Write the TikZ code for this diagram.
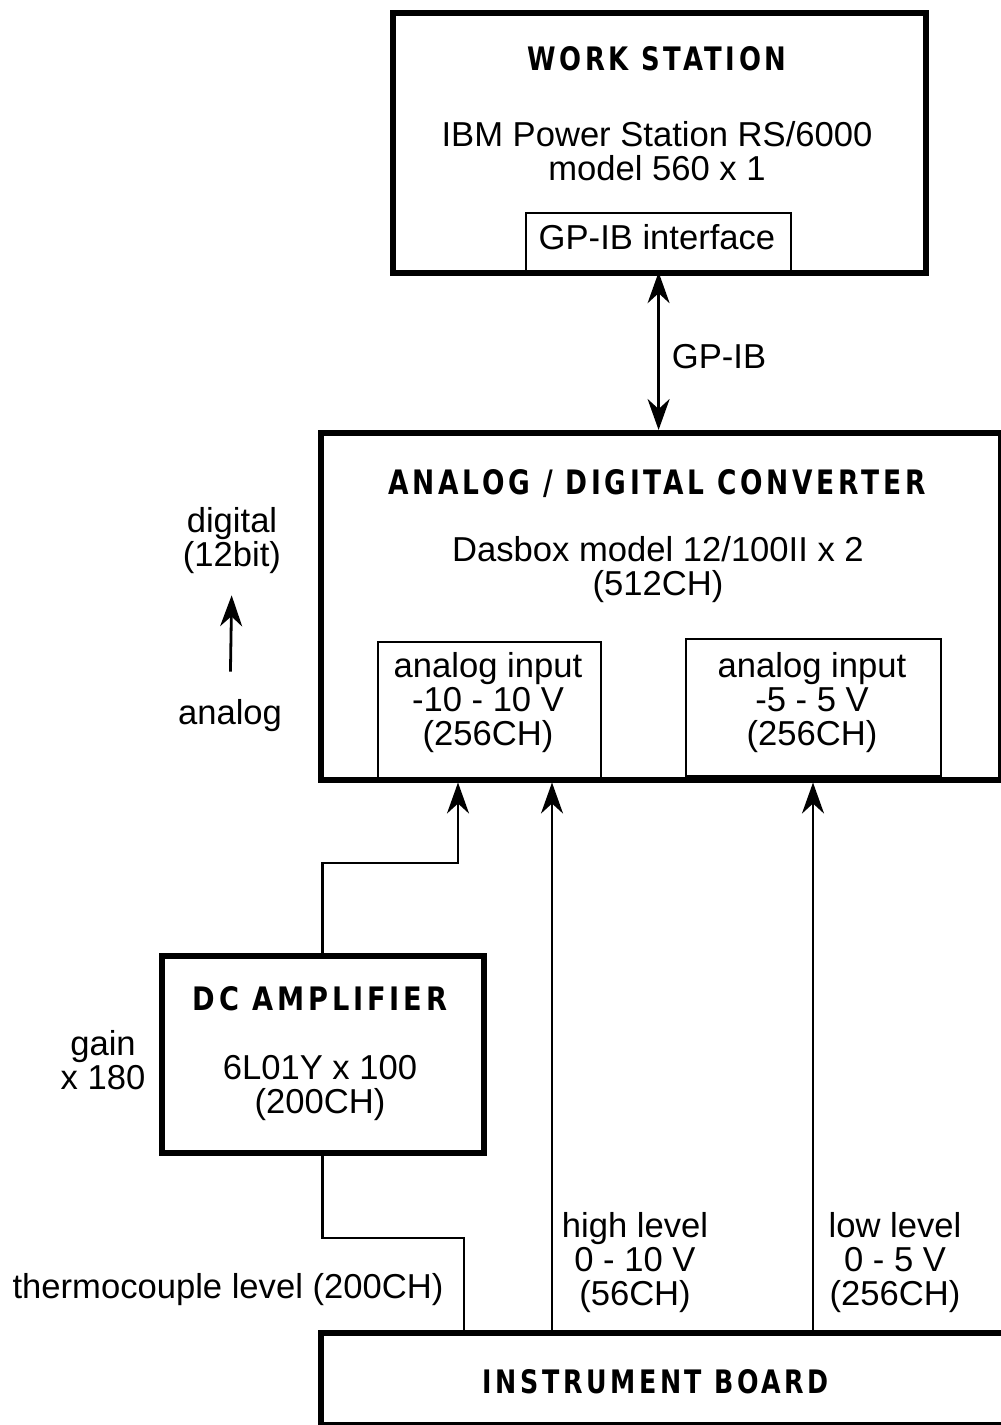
\documentclass[tikz,border=0pt]{standalone}
\usepackage{fontspec}
\setmainfont{Liberation Sans}
\newfontfamily\titlefont[LetterSpace=14]{DejaVu Sans}
\usepackage{graphicx}
\usetikzlibrary{arrows.meta}
\newcommand{\ttlbox}[3]{\resizebox{#1pt}{#2pt}{\titlefont\bfseries #3}}
\begin{document}
\begin{tikzpicture}[x=1pt,y=-1pt,
  box/.style={draw, line width=5.5pt, anchor=north west, inner sep=0pt},
  sub/.style={draw, line width=2.2pt, anchor=north west, inner sep=0pt},
  txt/.style={inner sep=0pt, align=center, font=\fontsize{34.6}{34}\selectfont},
  ttl/.style={inner sep=0pt},
  wire/.style={line width=2.8pt},
  tip/.tip={Stealth[length=31pt,width=22pt,inset=10pt]},
  arr/.style={line width=2.8pt, -tip},
  arrtwo/.style={line width=2.8pt, tip-tip},
]
\useasboundingbox (0,0) rectangle (1001,1425);
\fill[white] (0,0) rectangle (1001,1425);

% boxes
\node[box, minimum width=533pt, minimum height=260pt] (ws) at (390,10) {};
\node[sub, minimum width=265pt, minimum height=58pt] (gpib) at (525,212) {};
\node[box, minimum width=680pt, minimum height=347pt] (adc) at (318,430) {};
\node[sub, minimum width=223pt, minimum height=136pt] (inA) at (377,641) {};
\node[sub, minimum width=255pt, minimum height=137pt] (inB) at (685,638) {};
\node[box, minimum width=322pt, minimum height=197pt] (amp) at (159,953) {};
\node[box, minimum width=700pt, minimum height=92pt] (ib) at (318,1330) {};

% titles
\node[ttl] (wsT) at (657,59) {\ttlbox{259}{24}{WORK STATION}};
\node[ttl] (adcT) at (657,484) {\ttlbox{537}{25}{ANALOG / DIGITAL CONVERTER}};
\node[ttl] (ampT) at (320,999) {\ttlbox{254}{24}{DC AMPLIFIER}};
\node[ttl] (ibT) at (656,1382) {\ttlbox{346}{24}{INSTRUMENT BOARD}};

% texts
\node[txt] (wsD) at (657,151) {IBM Power Station RS/6000\\model 560 x 1};
\node[txt] (gpibT) at (657,237) {GP-IB interface};
\node[txt] (gpibL) at (719,357) {GP-IB};
\node[txt] (adcD) at (658,570) {Dasbox model 12/100II x 2\\(512CH)};
\node[txt] (inAT) at (488,703) {analog input\\-10 - 10 V\\(256CH)};
\node[txt] (inBT) at (812,703) {analog input\\-5 - 5 V\\(256CH)};
\node[txt] (dig) at (232,541) {digital\\(12bit)};
\node[txt] (ana) at (230,716) {analog};
\node[txt] (ampD) at (320,1088) {6L01Y x 100\\(200CH)};
\node[txt] (gain) at (103,1060) {gain\\x 180};
\node[txt] (thermo) at (228,1290) {thermocouple level (200CH)};
\node[txt] (hiL) at (635,1263) {high level\\0 - 10 V\\(56CH)};
\node[txt] (loL) at (895,1263) {low level\\0 - 5 V\\(256CH)};

% helper coordinates
\coordinate (k1) at (458,863);
\coordinate (k2) at (464,1238);
\coordinate (hx) at (552,1330);
\coordinate (lx) at (813,1330);

% connectors
\draw[arrtwo] (gpib.south) -- (gpib.south |- adc.north);
\draw[arr] (amp.north) |- (k1) -- (k1 |- adc.south);
\draw[wire] (amp.south) |- (k2) -- (k2 |- ib.north);
\draw[arr] (ib.north -| hx) -- (hx |- adc.south);
\draw[arr] (ib.north -| lx) -- (lx |- adc.south);
\draw[arr, shorten <=28pt, shorten >=21pt] (ana.north) -- (dig.south);
\end{tikzpicture}
\end{document}
